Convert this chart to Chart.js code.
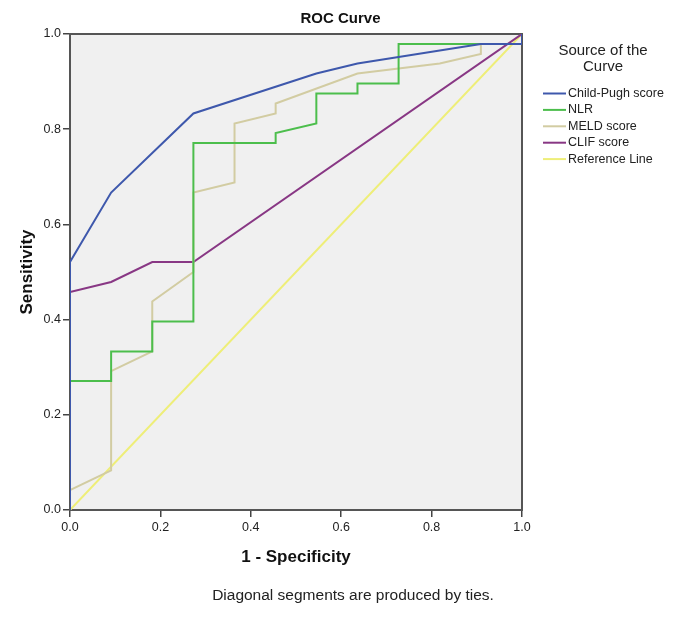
<!DOCTYPE html>
<html>
<head>
<meta charset="utf-8">
<script src="https://cdn.jsdelivr.net/npm/chart.js@4.4.1/dist/chart.umd.min.js"></script>
<style>
  html, body { margin: 0; padding: 0; background: #fff; }
  #chart { display: block; }
</style>
</head>
<body>
<canvas id="chart" width="681" height="642"></canvas>
<script>
// curve names, in legend order
const curveNames = ['Child-Pugh score', 'NLR', 'MELD score', 'CLIF score', 'Reference Line'];

// 1 - specificity (x) and sensitivity (y) for each curve
const childPughX = [0, 0, 0.091, 0.273, 0.545, 0.636, 0.909, 1.0, 1.0];
const childPughY = [0, 0.521, 0.667, 0.833, 0.917, 0.938, 0.979, 0.979, 1.0];

const nlrX = [0, 0, 0.091, 0.091, 0.182, 0.182, 0.273, 0.273, 0.455, 0.455, 0.545, 0.545, 0.636, 0.636, 0.727, 0.727, 1.0, 1.0];
const nlrY = [0, 0.271, 0.271, 0.333, 0.333, 0.396, 0.396, 0.771, 0.771, 0.792, 0.812, 0.875, 0.875, 0.896, 0.896, 0.979, 0.979, 1.0];

const meldX = [0, 0, 0.091, 0.091, 0.182, 0.182, 0.273, 0.273, 0.364, 0.364, 0.455, 0.455, 0.636, 0.818, 0.909, 0.909, 1.0, 1.0];
const meldY = [0, 0.042, 0.083, 0.292, 0.333, 0.438, 0.5, 0.667, 0.688, 0.812, 0.833, 0.854, 0.917, 0.938, 0.958, 0.979, 0.979, 1.0];

const clifX = [0, 0, 0.091, 0.182, 0.273, 1.0];
const clifY = [0, 0.458, 0.479, 0.521, 0.521, 1.0];

const refX = [0, 1.0];
const refY = [0, 1.0];

const tickValues = [0, 0.2, 0.4, 0.6, 0.8, 1.0];
const tickLabels = ['0.0', '0.2', '0.4', '0.6', '0.8', '1.0'];

const curveColors = ['#3E58AC', '#4CBE4C', '#D2CCA2', '#883784', '#EEEE78'];
const curveWidths = [2, 2, 2, 2, 2];

Chart.defaults.font.family = '"Liberation Sans", Arial, sans-serif';

function toPoints(xs, ys) {
  return xs.map((x, i) => ({x: x, y: ys[i]}));
}

const seriesX = [childPughX, nlrX, meldX, clifX, refX];
const seriesY = [childPughY, nlrY, meldY, clifY, refY];

// background, frame, legend and footnote
const rocDecor = {
  id: 'rocDecor',
  beforeDraw(chart) {
    const {ctx, chartArea: a} = chart;
    ctx.save();
    ctx.fillStyle = '#F0F0F0';
    ctx.fillRect(a.left, a.top, a.right - a.left, a.bottom - a.top);
    ctx.restore();
  },
  beforeDatasetsDraw(chart) {
    const {ctx, chartArea: a} = chart;
    ctx.save();
    ctx.strokeStyle = '#555';
    ctx.lineWidth = 2;
    ctx.strokeRect(a.left, a.top, a.right - a.left, a.bottom - a.top);
    ctx.restore();
  },
  afterDraw(chart) {
    const {ctx, chartArea: a} = chart;
    ctx.save();
    ctx.fillStyle = '#222';
    ctx.textBaseline = 'middle';
    ctx.textAlign = 'center';
    ctx.font = '15px "Liberation Sans", Arial, sans-serif';
    ctx.fillText('Source of the', a.right + 81, a.top + 17);
    ctx.fillText('Curve', a.right + 81, a.top + 33);

    ctx.textAlign = 'left';
    ctx.font = '12.5px "Liberation Sans", Arial, sans-serif';
    chart.data.datasets.forEach((ds, i) => {
      const y = a.top + 59.5 + i * 16.4;
      ctx.strokeStyle = ds.borderColor;
      ctx.lineWidth = 2;
      ctx.beginPath();
      ctx.moveTo(a.right + 21, y);
      ctx.lineTo(a.right + 44, y);
      ctx.stroke();
      ctx.fillText(ds.label, a.right + 46, y);
    });

    ctx.textAlign = 'center';
    ctx.font = '15.5px "Liberation Sans", Arial, sans-serif';
    ctx.fillText('Diagonal segments are produced by ties.', 353, 596);
    ctx.restore();
  }
};

const ctx = document.getElementById('chart').getContext('2d');

new Chart(ctx, {
  type: 'scatter',
  data: {
    datasets: curveNames.map((name, i) => ({
      label: name,
      data: toPoints(seriesX[i], seriesY[i]),
      showLine: true,
      borderColor: curveColors[i],
      backgroundColor: curveColors[i],
      borderWidth: curveWidths[i],
      pointRadius: 0,
      tension: 0
    }))
  },
  options: {
    responsive: false,
    animation: false,
    layout: {padding: {left: 0, right: 0, top: 0, bottom: 67}},
    plugins: {
      legend: {display: false},
      tooltip: {enabled: false},
      title: {
        display: true,
        text: 'ROC Curve',
        color: '#111',
        font: {size: 15, weight: 'bold'},
        padding: {top: 10, bottom: 6}
      }
    },
    scales: {
      x: {
        type: 'linear',
        min: 0,
        max: 1,
        afterBuildTicks: s => { s.ticks = tickValues.map(v => ({value: v})); },
        afterFit: s => { s.height = 65; },
        ticks: {
          callback: (v, i) => tickLabels[i],
          color: '#222',
          font: {size: 12.5},
          padding: 3,
          maxRotation: 0,
          autoSkip: false
        },
        grid: {display: true, drawOnChartArea: false, drawTicks: true, tickLength: 7, color: '#444', lineWidth: 1.5},
        border: {display: true, color: '#444', width: 2},
        title: {
          display: true,
          text: '1 - Specificity',
          color: '#111',
          font: {size: 17, weight: 'bold'},
          padding: {top: 0, bottom: 7.8}
        }
      },
      y: {
        type: 'linear',
        min: 0,
        max: 1,
        afterBuildTicks: s => { s.ticks = tickValues.map(v => ({value: v})); },
        afterFit: s => { s.width = 70; },
        ticks: {
          callback: (v, i) => tickLabels[i],
          color: '#222',
          font: {size: 12.5},
          padding: 2,
          autoSkip: false
        },
        grid: {display: true, drawOnChartArea: false, drawTicks: true, tickLength: 7, color: '#444', lineWidth: 1.5},
        border: {display: true, color: '#444', width: 2},
        title: {
          display: true,
          text: 'Sensitivity',
          color: '#111',
          font: {size: 17, weight: 'bold'},
          padding: {top: 16.8, bottom: 0}
        }
      },
      // empty axis, only keeps room for the legend on the right
      y2: {
        type: 'linear',
        position: 'right',
        display: true,
        afterFit: s => { s.width = 159; },
        ticks: {display: false},
        grid: {display: false},
        border: {display: false}
      }
    }
  },
  plugins: [rocDecor]
});
</script>
</body>
</html>
